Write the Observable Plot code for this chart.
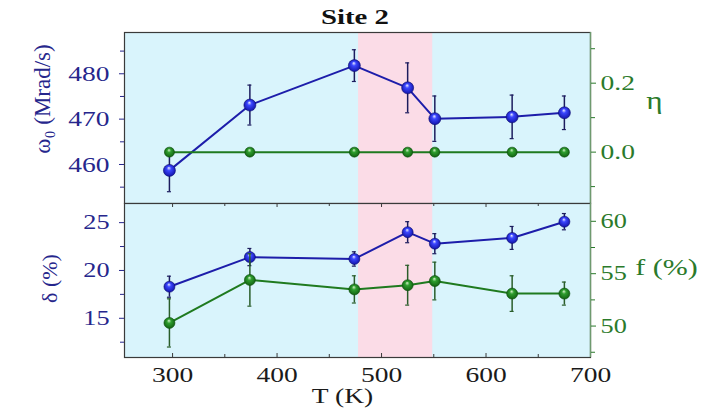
<!DOCTYPE html>
<html>
<head>
<meta charset="utf-8">
<script src="https://cdn.jsdelivr.net/npm/d3@7"></script>
<script src="https://cdn.jsdelivr.net/npm/@observablehq/plot@0.6"></script>
<style>
  body { margin: 0; background: #fff; }
  #chart { position: relative; width: 722px; height: 410px; background: #fff; overflow: hidden;
           font-family: "Liberation Serif", "Times New Roman", serif; }
  #chart svg.layer { position: absolute; left: 0; font-family: "Liberation Serif", "Times New Roman", serif !important; }
  #chart svg.layer text { font-family: "Liberation Serif", "Times New Roman", serif; }
  #title { position: absolute; left: 122px; width: 466px; top: 7px; text-align: center;
           font-size: 21px; line-height: 21px; font-weight: bold; color: #111;
           transform: scaleX(1.37); transform-origin: center; }
</style>
</head>
<body>
<svg width="0" height="0" style="position:absolute">
  <defs>
    <radialGradient id="ballBlue" cx="0.5" cy="0.5" r="0.6" fx="0.45" fy="0.28">
      <stop offset="0" stop-color="#eef0ff"/>
      <stop offset="0.3" stop-color="#3b47ff"/>
      <stop offset="1" stop-color="#0b0b9a"/>
    </radialGradient>
    <radialGradient id="ballGreen" cx="0.5" cy="0.5" r="0.6" fx="0.45" fy="0.28">
      <stop offset="0" stop-color="#d8f3cc"/>
      <stop offset="0.32" stop-color="#2f9e2f"/>
      <stop offset="1" stop-color="#0c560c"/>
    </radialGradient>
  </defs>
</svg>
<div id="chart"><div id="title">Site 2</div></div>
<script>
// Temperatures (K) of the measurements
const T = [297, 374, 474, 525, 551, 625, 675];
// Upper panel: quadrupole frequency ω0 (Mrad/s) and asymmetry η
const omega = [458.7, 473.1, 481.8, 476.9, 470.1, 470.5, 471.4];
const omegaErr = [4.7, 4.4, 3.5, 5.5, 5.0, 4.8, 3.7];
const eta = [0, 0, 0, 0, 0, 0, 0];
// Lower panel: distribution width δ (%) and site fraction f (%)
const delta = [18.3, 21.4, 21.2, 24.0, 22.8, 23.4, 25.1];
const deltaErr = [1.1, 0.9, 0.75, 1.1, 1.05, 1.2, 0.85];
const fraction = [50.3, 54.4, 53.5, 53.9, 54.3, 53.1, 53.1];
const fractionErr = [2.3, 2.5, 1.3, 1.9, 1.8, 1.7, 1.1];
// Shaded transition interval (K)
const transition = [478, 549];

// Axis domains and ticks
const tDomain = [254, 700];
const tTicks = [300, 400, 500, 600, 700];
const tMinor = [350, 450, 550, 650];
const omegaDomain = [451.4, 489.1];
const omegaTicks = [460, 470, 480];
const omegaMinor = [455, 465, 475, 485];
const etaDomain = [-0.149, 0.347];
const etaTicks = [0.0, 0.2];
const etaMinor = [-0.1, 0.1, 0.3];
const deltaDomain = [10.9, 27.0];
const deltaTicks = [15, 20, 25];
const deltaMinor = [12.5, 17.5, 22.5];
const fDomain = [47.0, 61.7];
const fTicks = [50, 55, 60];
const fMinor = [47.5, 52.5, 57.5];

const rows = T.map((t, i) => ({
  T: t, omega: omega[i], omegaErr: omegaErr[i], eta: eta[i],
  delta: delta[i], deltaErr: deltaErr[i], f: fraction[i], fErr: fractionErr[i]
}));

const serif = '"Liberation Serif", "Times New Roman", serif';
const cyan = "#d9f4fc", pink = "#fbdce7";
const navy = "#26268c", blueLine = "#1d1daa", blueErr = "#1c1c5e";
const green = "#2b7a2b", greenLine = "#1f7a1f", greenErr = "#2a5d2a";
const frameColor = "#3a3a3a", rightAxisColor = "#6f9a6f";
const W = 722, ML = 124, MR = 132;
const STRETCH = 1.25;

const base = {
  width: W, marginLeft: ML, marginRight: MR,
  style: { background: "transparent", overflow: "visible", fontFamily: serif },
  x: { domain: tDomain, axis: null }
};

function errorBars(key, errKey, color) {
  return [
    Plot.ruleX(rows, { x: "T", y1: d => d[key] - d[errKey], y2: d => d[key] + d[errKey], stroke: color, strokeWidth: 1.5 }),
    Plot.ruleY(rows, { y: d => d[key] + d[errKey], x1: "T", x2: "T", insetLeft: -2, insetRight: -2, stroke: color, strokeWidth: 1.2 }),
    Plot.ruleY(rows, { y: d => d[key] - d[errKey], x1: "T", x2: "T", insetLeft: -2, insetRight: -2, stroke: color, strokeWidth: 1.2 })
  ];
}

// Widen the serif glyphs horizontally (horizontal texts only)
function stretchText(svg, k) {
  d3.select(svg).selectAll("text").each(function () {
    const t = this.getAttribute("transform") || "";
    if (/rotate/.test(t)) return;
    const len = this.getComputedTextLength();
    if (len > 0) {
      this.setAttribute("textLength", len * k);
      this.setAttribute("lengthAdjust", "spacingAndGlyphs");
    }
  });
}

function place(svg, top) {
  svg.classList.add("layer");
  svg.style.top = top + "px";
  document.getElementById("chart").appendChild(svg);
  stretchText(svg, STRETCH);
}

// ---- Upper panel: ω0 (left axis) ----
const topH = 204;
const topLeft = Plot.plot({
  ...base, height: topH, marginTop: 32, marginBottom: 1,
  y: { domain: omegaDomain, axis: null },
  marks: [
    Plot.frame({ fill: cyan }),
    Plot.rect([transition], { x1: d => d[0], x2: d => d[1], fill: pink }),
    Plot.frame({ stroke: frameColor, strokeWidth: 1.2 }),
    Plot.axisY(omegaMinor, { anchor: "left", tickSize: 4, tickFormat: () => "", stroke: navy, label: null }),
    Plot.axisY(omegaTicks, { anchor: "left", tickSize: 5, tickPadding: 10, fontSize: 22, fill: navy, stroke: navy, label: null }),
    Plot.text(["ω₀ (Mrad/s)"], { frameAnchor: "left", textAnchor: "middle", dx: -82, dy: -19, rotate: -90, fontSize: 23, fill: navy }),
    ...errorBars("omega", "omegaErr", blueErr),
    Plot.line(rows, { x: "T", y: "omega", stroke: blueLine, strokeWidth: 2 }),
    Plot.dot(rows, { x: "T", y: "omega", r: 6, fill: "url(#ballBlue)", stroke: "#0a0a70", strokeWidth: 0.6 })
  ]
});

// ---- Upper panel: η (right axis) ----
const topRight = Plot.plot({
  ...base, height: topH, marginTop: 32, marginBottom: 1,
  y: { domain: etaDomain, axis: null },
  marks: [
    Plot.ruleX([tDomain[1]], { stroke: rightAxisColor, strokeWidth: 1.4 }),
    Plot.axisY(etaMinor, { anchor: "right", tickSize: 4, tickFormat: () => "", stroke: green, label: null }),
    Plot.axisY(etaTicks, { anchor: "right", tickSize: 5, tickPadding: 5, fontSize: 22, fill: green, stroke: green,
                           tickFormat: d => d.toFixed(1), label: null }),
    Plot.text(["η"], { frameAnchor: "right", textAnchor: "middle", dx: 64, dy: -17, lineAnchor: "middle", fontSize: 25, fill: green }),
    Plot.line(rows, { x: "T", y: "eta", stroke: greenLine, strokeWidth: 2 }),
    Plot.dot(rows, { x: "T", y: "eta", r: 5, fill: "url(#ballGreen)", stroke: "#0c4f0c", strokeWidth: 0.6 })
  ]
});

// ---- Lower panel: δ (left axis) and temperature axis ----
const botH = 208, botPlotH = 154;
const botLeft = Plot.plot({
  ...base, height: botH, marginTop: 1, marginBottom: botH - 1 - botPlotH,
  y: { domain: deltaDomain, axis: null },
  marks: [
    Plot.frame({ fill: cyan }),
    Plot.rect([transition], { x1: d => d[0], x2: d => d[1], fill: pink }),
    Plot.tickX(tTicks, { x: d => d, insetTop: botPlotH - 4, stroke: frameColor }),
    Plot.tickX(tMinor, { x: d => d, insetTop: botPlotH - 3, stroke: frameColor }),
    Plot.tickX(tTicks, { x: d => d, insetBottom: botPlotH - 4, stroke: frameColor }),
    Plot.tickX(tMinor, { x: d => d, insetBottom: botPlotH - 3, stroke: frameColor }),
    Plot.frame({ stroke: frameColor, strokeWidth: 1.2 }),
    Plot.axisX(tTicks, { anchor: "bottom", tickSize: 0, tickPadding: 9, fontSize: 22, fill: "#1a1a1a", label: null }),
    Plot.text(["T (K)"], { frameAnchor: "bottom", textAnchor: "middle", dx: -15, dy: 38, lineAnchor: "middle", fontSize: 22, fill: "#1a1a1a" }),
    Plot.axisY(deltaMinor, { anchor: "left", tickSize: 4, tickFormat: () => "", stroke: navy, label: null }),
    Plot.axisY(deltaTicks, { anchor: "left", tickSize: 5, tickPadding: 10, fontSize: 21, fill: navy, stroke: navy, label: null }),
    Plot.text(["δ (%)"], { frameAnchor: "left", textAnchor: "middle", dx: -75, dy: -2, rotate: -90, fontSize: 22, fill: navy }),
    ...errorBars("delta", "deltaErr", blueErr),
    Plot.line(rows, { x: "T", y: "delta", stroke: blueLine, strokeWidth: 2 }),
    Plot.dot(rows, { x: "T", y: "delta", r: 5.5, fill: "url(#ballBlue)", stroke: "#0a0a70", strokeWidth: 0.6 })
  ]
});

// ---- Lower panel: f (right axis) ----
const botRight = Plot.plot({
  ...base, height: botH, marginTop: 1, marginBottom: botH - 1 - botPlotH,
  y: { domain: fDomain, axis: null },
  marks: [
    Plot.ruleX([tDomain[1]], { stroke: rightAxisColor, strokeWidth: 1.4 }),
    Plot.axisY(fMinor, { anchor: "right", tickSize: 4, tickFormat: () => "", stroke: green, label: null }),
    Plot.axisY(fTicks, { anchor: "right", tickSize: 5, tickPadding: 5, fontSize: 21, fill: green, stroke: green, label: null }),
    Plot.text(["f (%)"], { frameAnchor: "right", textAnchor: "middle", dx: 76, dy: -13, lineAnchor: "middle", fontSize: 24, fill: green }),
    ...errorBars("f", "fErr", greenErr),
    Plot.line(rows, { x: "T", y: "f", stroke: greenLine, strokeWidth: 2 }),
    Plot.dot(rows, { x: "T", y: "f", r: 5.5, fill: "url(#ballGreen)", stroke: "#0c4f0c", strokeWidth: 0.6 })
  ]
});

place(topLeft, 0);
place(topRight, 0);
place(botLeft, 202);
place(botRight, 202);
</script>
</body>
</html>
